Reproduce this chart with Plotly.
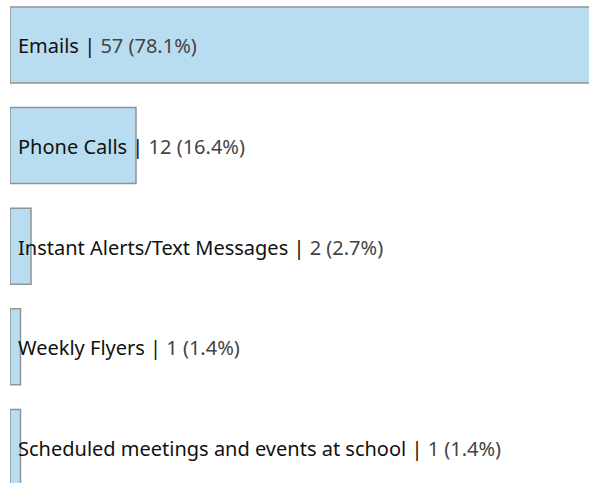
import plotly.graph_objects as go

categories = ["Emails", "Phone Calls", "Instant Alerts/Text Messages", "Weekly Flyers",
              "Scheduled meetings and events at school"]
counts = [57, 12, 2, 1, 1]

total = sum(counts)
pos = list(range(len(categories)))

fig = go.Figure()
fig.add_trace(go.Bar(
    x=counts, y=pos, orientation="h", width=0.755,
    marker=dict(color="#b9ddf0", line=dict(color="#939393", width=1.5)),
    hoverinfo="skip",
))

for i, (c, v) in enumerate(zip(categories, counts)):
    pct = v / total * 100
    fig.add_annotation(
        x=0, y=i, xref="x", yref="y", xanchor="left", yanchor="middle",
        xshift=6, yshift=-1, showarrow=False,
        text=f"<span style='color:#111111'>{c} | </span><span style='color:#444444'>{v} ({pct:.1f}%)</span>",
        font=dict(family="Noto Sans", size=20, color="#111111"),
    )

fig.update_layout(
    width=589, height=483,
    margin=dict(l=10, r=0, t=0, b=0),
    plot_bgcolor="white", paper_bgcolor="white",
    showlegend=False,
    xaxis=dict(range=[0, 579 / 10.5], visible=False, fixedrange=True),
    yaxis=dict(range=[4.354, -0.447], visible=False, fixedrange=True),
)

fig.write_html("out.html")
